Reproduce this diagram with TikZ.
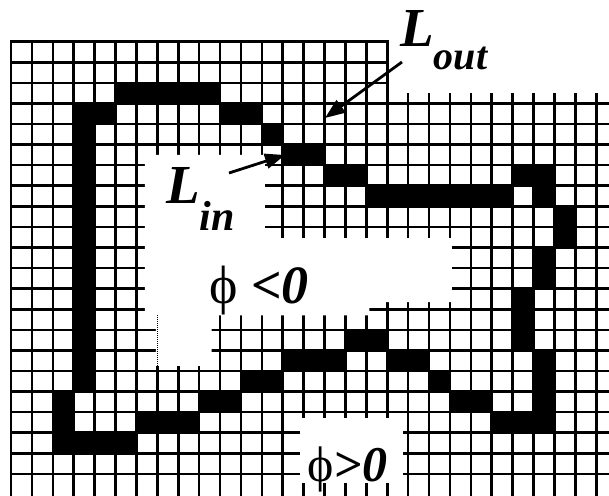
\documentclass[tikz,border=0pt]{standalone}
\usepackage{fontspec}
\setmainfont{Liberation Serif}
\usetikzlibrary{arrows.meta}

\begin{document}
\begin{tikzpicture}[
    x=1pt, y=-1pt,
    gridline/.style={line width=2.6pt, line cap=rect},
    blank/.style={fill=white},
    front/.style={fill=black},
    marktext/.style={inner sep=0pt, anchor=base west, font=\bfseries\itshape\fontsize{55}{55}\selectfont},
    pointer/.style={line width=2.8pt, -{Triangle[length=20pt, width=15pt]}}
  ]
  \useasboundingbox (0,0) rectangle (609,495);
  \clip (0,0) rectangle (609,495);

  \begin{scope}[shift={(11,41.7)}, x=20.9pt, y=-20.58pt]
    % Grid
    \foreach \i in {0,...,28}
      \draw[gridline] (\i,0) -- (\i,23);
    \foreach \j in {0,...,21}
      \draw[gridline] (0,\j) -- (29,\j);

    % Cleared regions (phi<0 interior, top right, phi>0 box)
    \fill[blank] (18.065,-3) rectangle (30,2.5);
    \fill[blank] (6.4,5.5) -- (12.15,5.5) -- (12.15,9.55) -- (21.1,9.55)
      -- (21.1,12.65) -- (17.15,12.65) -- (17.15,13.3) -- (9.6,13.3)
      -- (9.6,15.75) -- (6.93,15.75) -- (6.93,13.45) -- (6.4,13.45) -- cycle;
    \fill[blank] (13.83,18.3) rectangle (18.76,21.45);
    \draw[densely dotted, line width=1pt] (7,13.3) -- (7,16);

    % Front cells
    \foreach \a/\b/\c/\d in {5/2/10/3, 3/3/5/4, 10/3/12/4, 12/4/13/5, 13/5/15/6,
        15/6/17/7, 17/7/24/8, 24/6/26/7, 25/7/26/8, 26/8/27/10, 25/10/26/12,
        24/12/25/15, 25/15/26/19, 23/18/25/19, 21/17/23/18, 20/16/21/17,
        18/15/20/16, 16/14/18/15, 13/15/16/16, 11/16/13/17, 9/17/11/18,
        6/18/9/19, 3/19/6/20, 2/17/3/20, 3/3/4/17}
      \fill[front] (\a,\b) rectangle (\c,\d);
  \end{scope}

  % Labels
  \node[marktext] (Lout) at (400,47) {L\raisebox{-22pt}{\fontsize{40}{40}\selectfont out}};
  \node[marktext] (Lin) at (166,203) {L\raisebox{-27pt}{\fontsize{42}{42}\selectfont in}};
  \node[marktext, font=\bfseries\itshape\fontsize{54}{54}\selectfont] (phineg) at (209,303) {\textmd{\textup{ϕ}} <0};
  \node[marktext, font=\bfseries\itshape\fontsize{50}{50}\selectfont] (phipos) at (307,481) {\textmd{\textup{ϕ}}>0};

  % Pointers
  \coordinate (Lout tail) at (402,62);
  \coordinate (Lout tip) at (325,118);
  \draw[pointer] (Lout tail) -- (Lout tip);
  \coordinate (Lin tail) at (229,173);
  \coordinate (Lin tip) at (285,155);
  \draw[pointer] (Lin tail) -- (Lin tip);
\end{tikzpicture}
\end{document}
